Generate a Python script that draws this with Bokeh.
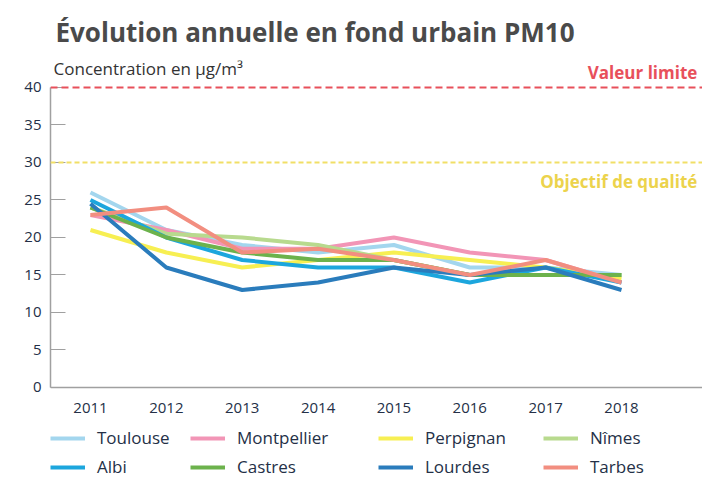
from bokeh.plotting import figure
from bokeh.models import Span, Label, Legend, LegendItem, Range1d, FixedTicker, Title
from bokeh.core.properties import value
from bokeh.embed import file_html
from bokeh.resources import INLINE

years = [2011, 2012, 2013, 2014, 2015, 2016, 2017, 2018]
year_labels = ["2011", "2012", "2013", "2014", "2015", "2016", "2017", "2018"]
toulouse = [26, 21, 19, 18, 19, 16, 16, 15]
montpellier = [23, 21, 18.5, 18.5, 20, 18, 17, 14]
perpignan = [21, 18, 16, 17, 18, 17, 16, 14.5]
nimes = [24, 20.5, 20, 19, 17, 15, 15, 15]
albi = [25, 20, 17, 16, 16, 14, 16, 14]
castres = [24, 20, 18, 17, 17, 15, 15, 15]
lourdes = [24.5, 16, 13, 14, 16, 15, 16, 13]
tarbes = [23, 24, 18, 18.5, 17, 15, 17, 14]
valeur_limite = 40
objectif_qualite = 30
y_ticks = [0, 5, 10, 15, 20, 25, 30, 35, 40]

series = [
    ("Toulouse", toulouse, "#a3d6ee"),
    ("Montpellier", montpellier, "#f295b6"),
    ("Perpignan", perpignan, "#f7ef52"),
    ("Nîmes", nimes, "#b8da8e"),
    ("Albi", albi, "#1ca6dd"),
    ("Castres", castres, "#6cb24c"),
    ("Lourdes", lourdes, "#2a7cbc"),
    ("Tarbes", tarbes, "#f28e80"),
]

FONT = "Open Sans"
TXT = "#243047"
AXC = "#a0a0a0"
X0, X1 = 2010.473, 2019.068
p = figure(width=702, height=479, output_backend="svg", toolbar_location=None,
           x_range=Range1d(X0, X1), y_range=Range1d(-12.27, 43.6),
           min_border_left=50, min_border_right=0, min_border_top=60,
           min_border_bottom=0)
p.outline_line_color = None
p.xgrid.visible = False
p.ygrid.visible = False
p.xaxis.visible = False

p.add_layout(Title(text="Évolution annuelle en fond urbain PM10", align="left",
                   offset=5, standoff=21, text_color="#4a4a4a", text_font=FONT,
                   text_font_style="bold", text_font_size="26px"), "above")

renderers = {}
for name, vals, col in series:
    r = p.line(years, vals, line_color=col, line_width=4, line_join="round")
    renderers[name] = r

# x axis line and tick labels
p.add_layout(Span(location=0, dimension="width", line_color=AXC, line_width=1.5))
p.text(x=years, y=[0] * len(years), text=year_labels, y_offset=21,
       text_align="center", text_baseline="middle", text_color=TXT,
       text_font=value(FONT), text_font_size="15px")

p.add_layout(Span(location=valeur_limite, dimension="width", line_color="#e8505b",
                  line_dash="7 4", line_width=2))
p.add_layout(Span(location=objectif_qualite, dimension="width", line_color="#f1df66",
                  line_dash="5 3", line_width=2))

p.add_layout(Label(x=2019.0, y=valeur_limite + 2.0, text="Valeur limite", text_align="right",
                   text_baseline="middle", text_color="#e8505b", text_font=FONT,
                   text_font_style="bold", text_font_size="17px"))
p.add_layout(Label(x=2019.0, y=objectif_qualite - 2.5, text="Objectif de qualité",
                   text_align="right", text_baseline="middle", text_color="#ecd34c",
                   text_font=FONT, text_font_style="bold", text_font_size="17px"))
p.add_layout(Label(x=2010.513, y=valeur_limite + 2.55, text="Concentration en µg/m³",
                   text_baseline="middle", text_color="#333333", text_font=FONT,
                   text_font_size="17px"))

p.yaxis.ticker = FixedTicker(ticks=y_ticks)
p.yaxis.bounds = (0, 40)
p.yaxis.axis_line_color = AXC
p.yaxis.axis_line_width = 1.5
p.yaxis.major_label_text_font = FONT
p.yaxis.major_label_text_font_size = "15px"
p.yaxis.major_label_text_color = TXT
p.yaxis.minor_tick_line_color = None
p.yaxis.major_tick_in = 15
p.yaxis.major_tick_out = 0
p.yaxis.major_tick_line_color = AXC
p.yaxis.major_label_standoff = 9

legend_columns = [["Toulouse", "Albi"], ["Montpellier", "Castres"],
                  ["Perpignan", "Lourdes"], ["Nîmes", "Tarbes"]]
legend_x = [0, 140, 328, 493]
for names, lx in zip(legend_columns, legend_x):
    lg = Legend(items=[LegendItem(label=n, renderers=[renderers[n]]) for n in names],
                orientation="vertical", location=(lx, 1),
                label_text_font=FONT, label_text_font_size="17px",
                label_text_color=TXT, glyph_width=35, glyph_height=20, label_height=20,
                label_standoff=12, spacing=6, padding=0, margin=0,
                border_line_color=None, background_fill_alpha=0)
    p.add_layout(lg, "center")

open("out.html", "w").write(file_html(p, INLINE))
